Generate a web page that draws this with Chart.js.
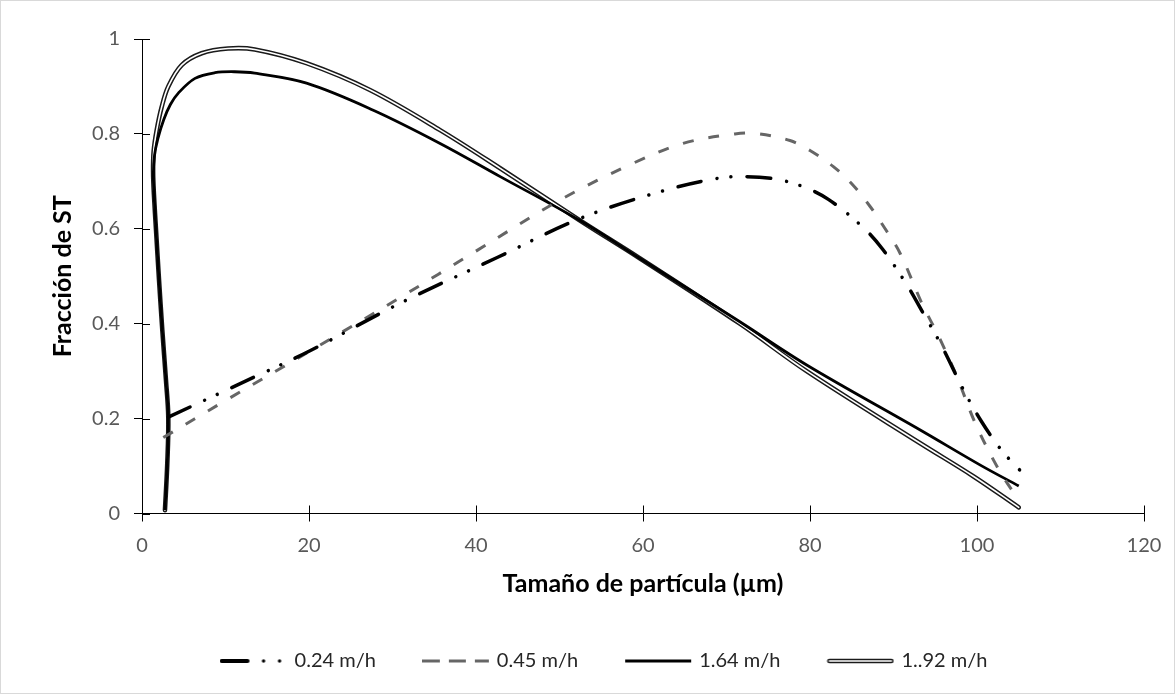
<!DOCTYPE html>
<html><head><meta charset="utf-8">
<script src="https://cdn.jsdelivr.net/npm/chart.js@4.4.0/dist/chart.umd.min.js"></script>
<style>html,body{margin:0;padding:0;background:#fff;}canvas{display:block;}</style>
</head><body>
<canvas id="c" width="1175" height="694"></canvas>
<script>
// ---- data ----
const seriesNames = ['0.24 m/h', '0.45 m/h', '1.64 m/h', '1..92 m/h'];

const x024 = [3.15, 13.5, 20, 30.9, 42.6, 52.5, 62, 68.8, 72.2, 75.8, 79, 82.2, 86.3, 88.7, 91.6, 93.4, 95.6, 98.4, 100.5, 102.9, 105.1];
const y024 = [0.203, 0.288, 0.342, 0.443, 0.540, 0.622, 0.678, 0.706, 0.710, 0.705, 0.690, 0.662, 0.604, 0.557, 0.482, 0.427, 0.359, 0.260, 0.195, 0.134, 0.092];

const x045 = [2.55, 10, 20, 30.9, 40, 50.1, 58.8, 64.8, 71, 73.5, 77.6, 80, 82.8, 85, 87.2, 89, 90.8, 93.4, 95.5, 97.6, 99.8, 102.5, 104.9];
const y045 = [0.16, 0.238, 0.341, 0.455, 0.553, 0.661, 0.738, 0.780, 0.800, 0.801, 0.786, 0.765, 0.731, 0.695, 0.647, 0.600, 0.548, 0.443, 0.370, 0.288, 0.190, 0.096, 0.030];

const x164 = [2.75, 3.03, 3.15, 2.87, 2.43, 2.04, 1.68, 1.45, 1.36, 1.50, 1.90, 2.60, 3.40, 4.35, 6.35, 8.74, 11.1, 13.5, 19.7, 27.7, 35.7, 42.9, 52.5, 59.6, 71.6, 79.6, 93.2, 100.4, 105];
const y164 = [0.007, 0.106, 0.203, 0.281, 0.387, 0.492, 0.597, 0.672, 0.716, 0.755, 0.790, 0.830, 0.862, 0.886, 0.917, 0.929, 0.931, 0.928, 0.907, 0.850, 0.780, 0.710, 0.617, 0.538, 0.404, 0.313, 0.176, 0.102, 0.058];

const x192 = [2.75, 3.03, 3.15, 2.87, 2.43, 2.04, 1.68, 1.43, 1.33, 1.40, 1.76, 2.36, 3.15, 4.75, 7.15, 10.3, 13.5, 19.7, 27.3, 35.7, 42.9, 52.5, 59.6, 71.6, 79.6, 93.2, 99.6, 105];
const y192 = [0.007, 0.106, 0.203, 0.281, 0.387, 0.492, 0.597, 0.672, 0.720, 0.764, 0.808, 0.857, 0.900, 0.945, 0.970, 0.980, 0.978, 0.949, 0.8925, 0.808, 0.7275, 0.617, 0.538, 0.400, 0.300, 0.148, 0.078, 0.013];

const xTicks = [0, 20, 40, 60, 80, 100, 120];
const xTickLabels = ['0', '20', '40', '60', '80', '100', '120'];
const yTicks = [0, 0.2, 0.4, 0.6, 0.8, 1];
const yTickLabels = ['0', '0.2', '0.4', '0.6', '0.8', '1'];
const xTitle = 'Tamaño de partícula (µm)';
const yTitle = 'Fracción de ST';

// ---- helpers ----
function pts(xs, ys) { return xs.map((x, i) => ({ x: x, y: ys[i] })); }

function legendSample(kind) {
  const c = document.createElement('canvas');
  c.width = 68; c.height = 10;
  const g = c.getContext('2d');
  g.lineCap = 'butt';
  if (kind === 0) {
    g.strokeStyle = '#000'; g.lineWidth = 4; g.lineCap = 'round';
    g.beginPath(); g.moveTo(2, 5); g.lineTo(28, 5); g.stroke();
    g.fillStyle = '#000';
    [44, 60].forEach(px => { g.beginPath(); g.arc(px, 5, 1.7, 0, Math.PI * 2); g.fill(); });
  } else if (kind === 1) {
    g.strokeStyle = '#666'; g.lineWidth = 3;
    [[0, 18], [27, 44], [53, 67]].forEach(s => { g.beginPath(); g.moveTo(s[0], 5); g.lineTo(s[1], 5); g.stroke(); });
  } else if (kind === 2) {
    g.strokeStyle = '#000'; g.lineWidth = 3.2;
    g.beginPath(); g.moveTo(1, 5); g.lineTo(67, 5); g.stroke();
  } else {
    g.lineCap = 'round';
    g.strokeStyle = '#1a1a1a'; g.lineWidth = 4.6;
    g.beginPath(); g.moveTo(3, 5); g.lineTo(65, 5); g.stroke();
    g.strokeStyle = '#fff'; g.lineWidth = 1.6;
    g.beginPath(); g.moveTo(3, 5); g.lineTo(65, 5); g.stroke();
  }
  return c;
}
const samples = { 0: legendSample(0), 1: legendSample(1), 2: legendSample(2), 4: legendSample(3) };

const frame = {
  id: 'frame',
  beforeDraw(chart) {
    const ctx = chart.ctx;
    ctx.save();
    ctx.fillStyle = '#fff';
    ctx.fillRect(0, 0, chart.width, chart.height);
    ctx.strokeStyle = '#d9d9d9'; ctx.lineWidth = 1;
    ctx.strokeRect(0.5, 0.5, chart.width - 1, chart.height - 1);
    ctx.restore();
  }
};

const crossTicks = {
  id: 'crossTicks',
  afterDraw(chart) {
    const { ctx, chartArea: a, scales } = chart;
    ctx.save();
    ctx.strokeStyle = '#000'; ctx.lineWidth = 1;
    scales.x.ticks.forEach(t => {
      const px = Math.round(scales.x.getPixelForValue(t.value)) + 0.5;
      ctx.beginPath(); ctx.moveTo(px, a.bottom); ctx.lineTo(px, a.bottom - 8); ctx.stroke();
    });
    scales.y.ticks.forEach(t => {
      const py = Math.round(scales.y.getPixelForValue(t.value)) + 0.5;
      ctx.beginPath(); ctx.moveTo(a.left, py); ctx.lineTo(a.left + 8, py); ctx.stroke();
    });
    ctx.restore();
  }
};

const lineBase = { showLine: true, pointRadius: 0, pointHoverRadius: 0, tension: 0.35, fill: false };
const d192 = pts(x192, y192);

new Chart(document.getElementById('c'), {
  type: 'scatter',
  data: {
    datasets: [
      Object.assign({ label: seriesNames[0], data: pts(x024, y024), borderColor: '#000', borderWidth: 3.5,
        borderDash: [24, 16, 0.01, 14, 0.01, 16], borderCapStyle: 'round', order: 1 }, lineBase),
      Object.assign({ label: seriesNames[1], data: pts(x045, y045), borderColor: '#666', borderWidth: 3,
        borderDash: [11, 15], order: 2 }, lineBase),
      Object.assign({ label: seriesNames[2], data: pts(x164, y164), borderColor: '#000', borderWidth: 2.8, order: 3 }, lineBase),
      Object.assign({ label: 'inner', data: d192, borderColor: '#fff', borderWidth: 1.6, borderCapStyle: 'round', order: 4 }, lineBase),
      Object.assign({ label: seriesNames[3], data: d192, borderColor: '#1a1a1a', borderWidth: 4.6, borderCapStyle: 'round', order: 5 }, lineBase)
    ]
  },
  options: {
    responsive: false,
    animation: false,
    events: [],
    layout: { padding: { left: 66, right: 31, top: 39, bottom: 13 } },
    plugins: {
      tooltip: { enabled: false },
      legend: {
        position: 'bottom',
        labels: {
          usePointStyle: true,
          pointStyleWidth: 62,
          padding: 49,
          color: '#262626',
          font: { family: 'Lato', size: 20 },
          generateLabels(chart) {
            const items = Chart.defaults.plugins.legend.labels.generateLabels(chart);
            return items.filter(it => it.datasetIndex !== 3).map(it => Object.assign(it, { pointStyle: samples[it.datasetIndex] }));
          }
        }
      }
    },
    scales: {
      x: {
        type: 'linear', min: 0, max: 120,
        afterBuildTicks: s => { s.ticks = xTicks.map(v => ({ value: v })); },
        afterFit: s => { s.height = 88.5; },
        grid: { display: true, drawOnChartArea: false, drawTicks: true, tickLength: 8, color: '#000' },
        border: { display: true, color: '#000', width: 1 },
        ticks: { font: { family: 'Lato', size: 20 }, color: '#595959', padding: 12, maxRotation: 0,
          callback: (v, i) => xTickLabels[i] },
        title: { display: true, text: xTitle, color: '#000', font: { family: 'Lato', size: 25, weight: 'bold' }, padding: { top: 4, bottom: 3 } }
      },
      y: {
        type: 'linear', min: 0, max: 1,
        afterBuildTicks: s => { s.ticks = yTicks.map(v => ({ value: v })); },
        afterFit: s => { s.width = 76; },
        grid: { display: true, drawOnChartArea: false, drawTicks: true, tickLength: 8, color: '#000' },
        border: { display: true, color: '#000', width: 1 },
        ticks: { font: { family: 'Lato', size: 20 }, color: '#595959', padding: 14,
          callback: (v, i) => yTickLabels[i] },
        title: { display: true, text: yTitle, color: '#000', font: { family: 'Lato', size: 25, weight: 'bold' }, padding: { top: -18, bottom: 0 } }
      }
    }
  },
  plugins: [frame, crossTicks]
});
</script>
</body></html>
